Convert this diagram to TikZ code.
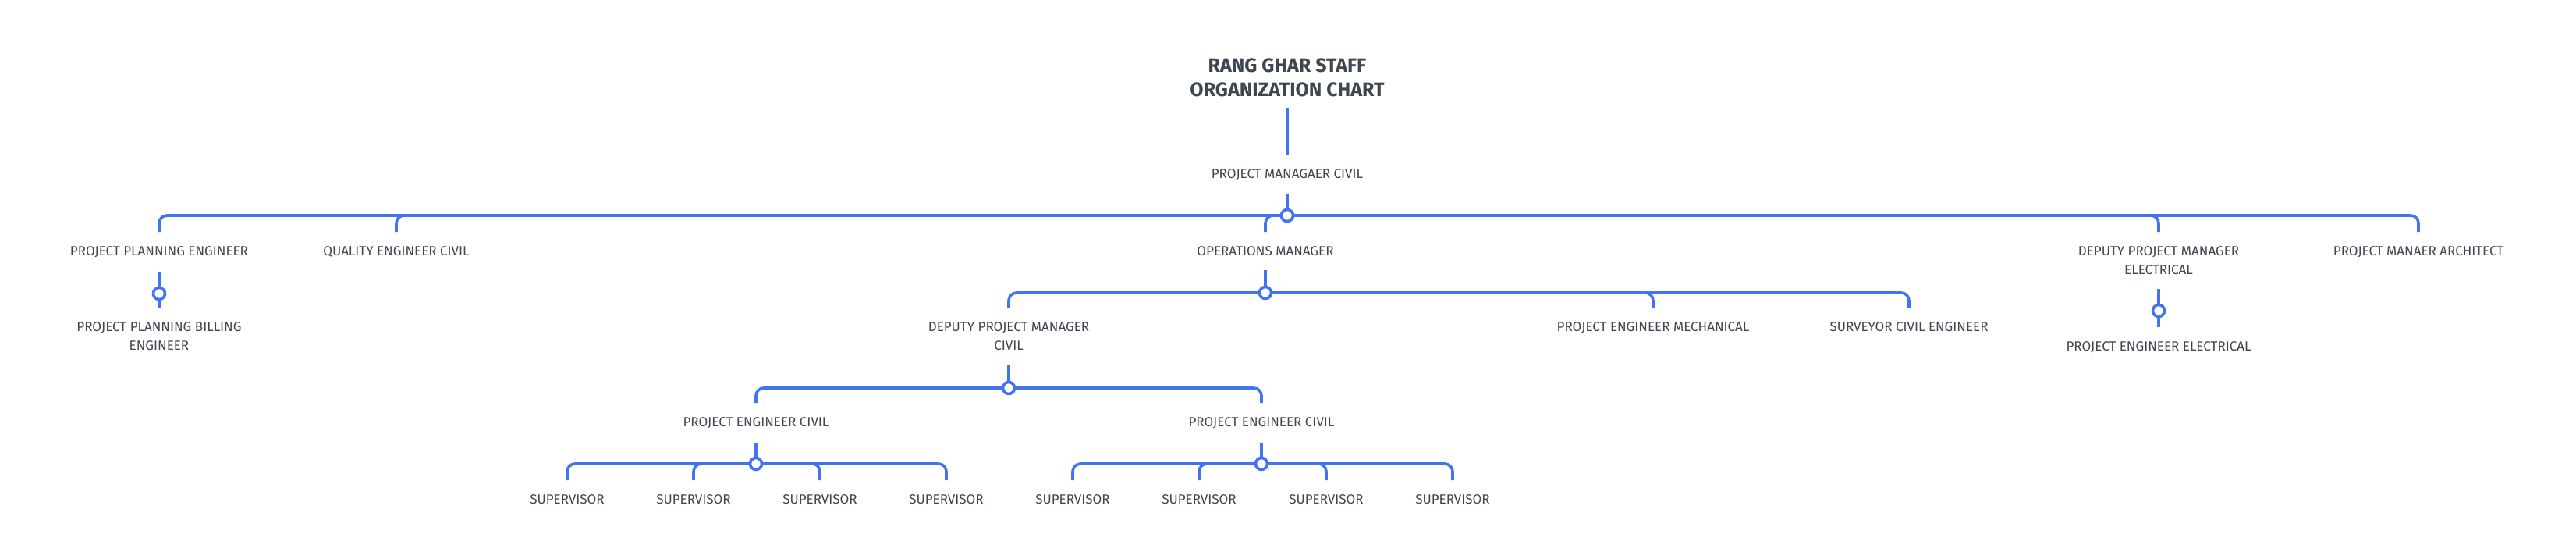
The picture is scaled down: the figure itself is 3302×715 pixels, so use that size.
\documentclass[tikz,border=0pt]{standalone}
\usepackage{fontspec}
\setmainfont{Fira Sans}
\begin{document}
\begin{tikzpicture}[x=1pt,y=-1pt,
  lbl/.style={anchor=north,inner xsep=0,inner ysep=18,align=center,text=txt,font=\fontsize{17}{24}\selectfont\addfontfeature{}},
  ln/.style={draw=lb,line width=3.6pt,rounded corners=10pt},
  jc/.style={circle,draw=lb,fill=white,line width=3.6pt,minimum size=15pt,inner sep=0}]
\definecolor{lb}{HTML}{4273F0}
\definecolor{txt}{HTML}{3E4650}
\useasboundingbox (0,0) rectangle (3302,715);
\node[font=\bfseries\fontsize{25}{31}\selectfont,text=txt,align=center,inner ysep=14,anchor=south] (title) at (1650,138) {RANG GHAR STAFF\\ORGANIZATION CHART};
\node[lbl] (pmc) at (1650,198) {PROJECT MANAGAER CIVIL};
\node[lbl] (ppe) at (204,297) {PROJECT PLANNING ENGINEER};
\node[lbl] (qec) at (508,297) {QUALITY ENGINEER CIVIL};
\node[lbl] (om) at (1622,297) {OPERATIONS MANAGER};
\node[lbl] (dpme) at (2767,297) {DEPUTY PROJECT MANAGER\\ELECTRICAL};
\node[lbl] (pma) at (3100,297) {PROJECT MANAER ARCHITECT};
\node[lbl] (ppbe) at (204,394) {PROJECT PLANNING BILLING\\ENGINEER};
\node[lbl] (pee) at (2767,419) {PROJECT ENGINEER ELECTRICAL};
\node[lbl] (dpmc) at (1293,394) {DEPUTY PROJECT MANAGER\\CIVIL};
\node[lbl] (pem) at (2119,394) {PROJECT ENGINEER MECHANICAL};
\node[lbl] (sce) at (2447,394) {SURVEYOR CIVIL ENGINEER};
\node[lbl] (pec1) at (969,516) {PROJECT ENGINEER CIVIL};
\node[lbl] (pec2) at (1617,516) {PROJECT ENGINEER CIVIL};
\foreach \i/\x in {1/727,2/889,3/1051,4/1213,5/1375,6/1537,7/1700,8/1862}
  \node[lbl] (s\i) at (\x,615) {SUPERVISOR};
\coordinate (j0) at (1650,276);
\coordinate (j1) at (204,376);
\coordinate (j2) at (1622,375);
\coordinate (j3) at (2767,398);
\coordinate (j4) at (1293,497);
\coordinate (j5) at (969,594);
\coordinate (j6) at (1617,594);
\draw[ln] (title.south) -- (pmc.north);
\draw[ln] (pmc.south) -- (j0);
\draw[ln] (ppe.north) |- (j0) -| (pma.north);
\draw[ln] (j0) -| (qec.north);
\draw[ln] (j0) -| (om.north);
\draw[ln] (j0) -| (dpme.north);
\draw[ln] (ppe.south) -- (ppbe.north);
\draw[ln] (dpme.south) -- (pee.north);
\draw[ln] (om.south) -- (j2);
\draw[ln] (dpmc.north) |- (j2) -| (sce.north);
\draw[ln] (j2) -| (pem.north);
\draw[ln] (dpmc.south) -- (j4);
\draw[ln] (pec1.north) |- (j4) -| (pec2.north);
\draw[ln] (pec1.south) -- (j5);
\draw[ln] (s1.north) |- (j5) -| (s4.north);
\draw[ln] (j5) -| (s2.north);
\draw[ln] (j5) -| (s3.north);
\draw[ln] (pec2.south) -- (j6);
\draw[ln] (s5.north) |- (j6) -| (s8.north);
\draw[ln] (j6) -| (s6.north);
\draw[ln] (j6) -| (s7.north);
\foreach \j in {j0,j1,j2,j3,j4,j5,j6} \node[jc] at (\j) {};
\end{tikzpicture}
\end{document}
